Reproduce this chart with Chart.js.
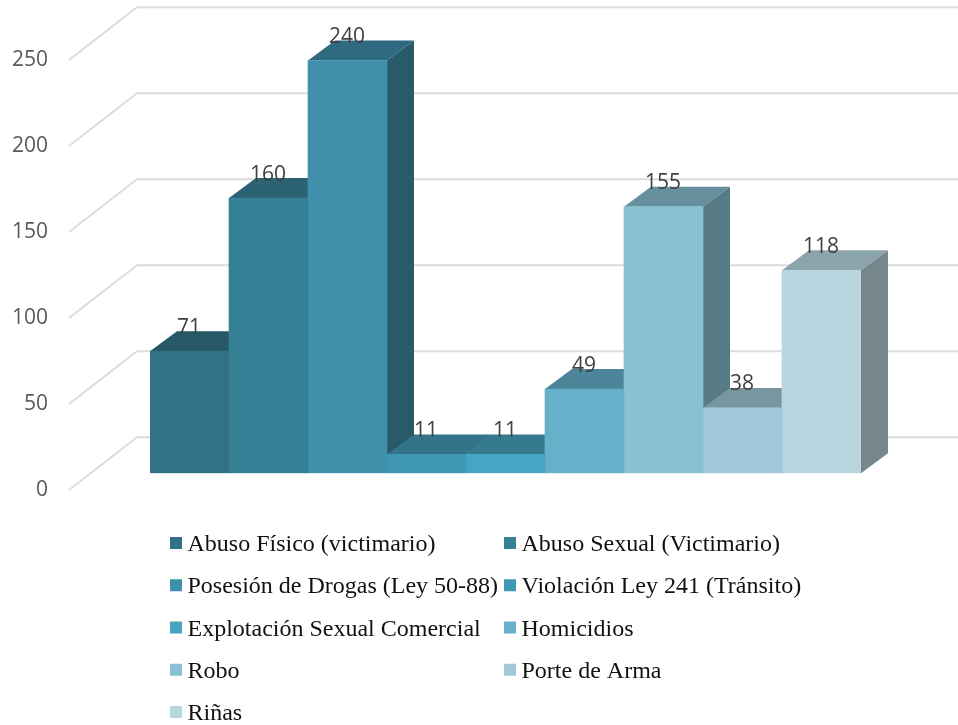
<!DOCTYPE html>
<html>
<head>
<meta charset="utf-8">
<style>html,body{margin:0;padding:0;background:#fff}canvas{display:block}</style>
<script src="https://cdn.jsdelivr.net/npm/chart.js@4/dist/chart.umd.min.js"></script>
</head>
<body>
<canvas id="c" width="958" height="725"></canvas>
<script>
const seriesNames = ['Abuso Físico (victimario)','Abuso Sexual (Victimario)','Posesión de Drogas (Ley 50-88)','Violación Ley 241 (Tránsito)','Explotación Sexual Comercial','Homicidios','Robo','Porte de Arma','Riñas'];
const seriesValues = [71,160,240,11,11,49,155,38,118];
const frontColors = ['#337285','#378197','#408FAB','#4198B3','#45A5C2','#66B0CA','#8AC0D4','#A0C9DA','#B9D6E0'];
const topColors = ['#265868','#2C6273','#2E6B80','#33748A','#367A90','#4C8499','#67909F','#78969F','#8BA3AA'];
const sideColors = ['#22505E','#27596A','#285A69','#2C6375','#2F6B7F','#46788B','#567B85','#6B8791','#76888C'];
const tickStep = 50, tickMax = 250;

const DX = 27, DY = -20;            // bar depth
const WALL_UP = 36, WALL_X = 137;   // back wall offset
const FLOOR_DOWN = 16.7, FLOOR_X = 69;
const PLOT_TOP = 43.3;

const threeD = {
  id:'threeD',
  afterLayout(chart){
    const y = chart.scales.y, a = chart.chartArea;
    y.top = PLOT_TOP; y.height = y.bottom - PLOT_TOP; y.configure();
    a.top = PLOT_TOP; a.height = a.bottom - PLOT_TOP;
  },
  beforeDatasetsDraw(chart){
    const {ctx} = chart, y = chart.scales.y;
    ctx.save();
    ctx.strokeStyle = '#DCDCDC'; ctx.lineWidth = 2; ctx.lineJoin = 'round';
    y.ticks.forEach(t=>{
      const p = y.getPixelForValue(t.value);
      ctx.beginPath();
      ctx.moveTo(FLOOR_X, p + FLOOR_DOWN);
      ctx.lineTo(WALL_X, p - WALL_UP);
      ctx.lineTo(chart.width, p - WALL_UP);
      ctx.stroke();
    });
    seriesValues.forEach((_,i)=>{
      const b = chart.getDatasetMeta(i).data[0];
      const l = b.x - b.width/2, r = b.x + b.width/2, t = b.y, base = b.base;
      ctx.fillStyle = topColors[i];
      ctx.beginPath();
      ctx.moveTo(l,t); ctx.lineTo(l+DX,t+DY); ctx.lineTo(r+DX,t+DY); ctx.lineTo(r,t);
      ctx.closePath(); ctx.fill();
      ctx.fillStyle = sideColors[i];
      ctx.beginPath();
      ctx.moveTo(r,t); ctx.lineTo(r+DX,t+DY); ctx.lineTo(r+DX,base+DY); ctx.lineTo(r,base);
      ctx.closePath(); ctx.fill();
    });
    ctx.restore();
  },
  afterDatasetsDraw(chart){
    const {ctx} = chart;
    ctx.save();
    ctx.font = '21px "Open Sans"';
    ctx.fillStyle = '#404040';
    ctx.textAlign = 'center'; ctx.textBaseline = 'middle';
    seriesValues.forEach((v,i)=>{
      const b = chart.getDatasetMeta(i).data[0];
      ctx.fillText(String(v), b.x - 0.5, b.y - 23.5);
    });
    ctx.font = '24px "Liberation Serif"';
    ctx.textAlign = 'left'; ctx.textBaseline = 'alphabetic';
    seriesNames.forEach((n,i)=>{
      const col = i % 2, row = Math.floor(i/2);
      const cy = 543 + row * 42.25;
      const bx = col ? 504 : 170;
      ctx.fillStyle = frontColors[i];
      ctx.fillRect(bx, cy-6, 12, 12);
      ctx.fillStyle = '#111111';
      ctx.fillText(n, bx + 17.5, cy + 8);
    });
    ctx.restore();
  }
};

new Chart(document.getElementById('c'),{
  type:'bar',
  data:{
    labels:[''],
    datasets:seriesNames.map((n,i)=>({label:n,data:[seriesValues[i]],backgroundColor:frontColors[i],borderWidth:0}))
  },
  plugins:[threeD],
  options:{
    responsive:false,
    animation:false,
    events:[],
    layout:{padding:{top:PLOT_TOP,bottom:251.7,right:97,left:0}},
    datasets:{bar:{categoryPercentage:1,barPercentage:1}},
    plugins:{legend:{display:false},title:{display:false},tooltip:{enabled:false}},
    scales:{
      x:{display:false},
      y:{
        min:0,max:tickMax,
        afterFit(s){s.width=150;},
        grid:{display:false},
        border:{display:false},
        ticks:{stepSize:tickStep,padding:94,labelOffset:FLOOR_DOWN,color:'#595959',font:{family:'"Open Sans"',size:21}}
      }
    }
  }
});
</script>
</body>
</html>
